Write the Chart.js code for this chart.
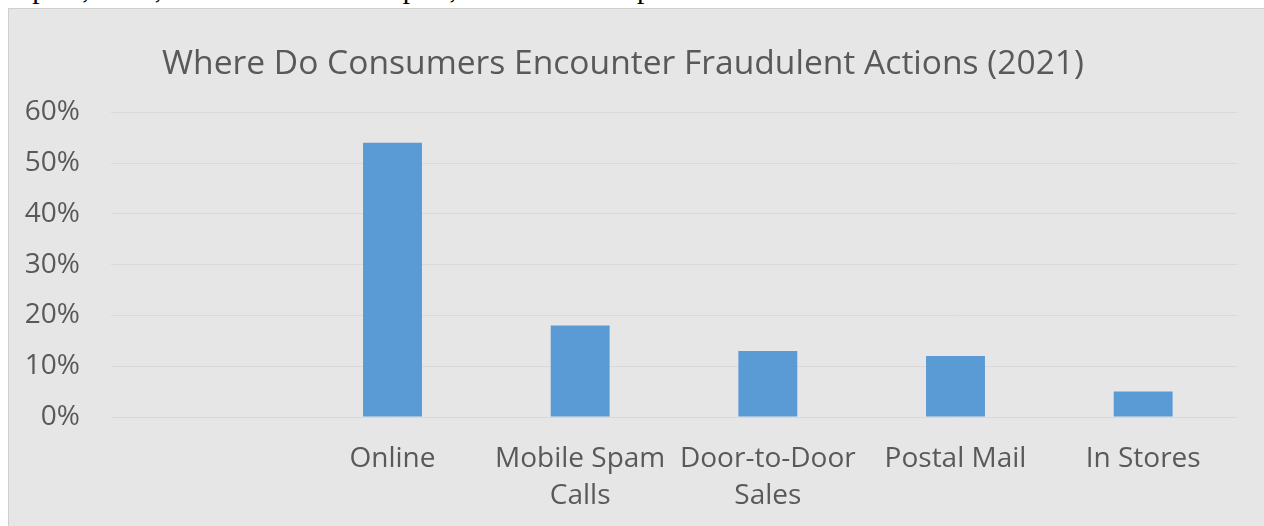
<!DOCTYPE html>
<html>
<head>
<meta charset="utf-8">
<script src="https://cdn.jsdelivr.net/npm/chart.js@4/dist/chart.umd.min.js"></script>
<style>
    body { margin: 0; background: #ffffff; width: 1264px; height: 526px; overflow: hidden; position: relative; }
    #docline {
        position: absolute; left: 0; top: -28px; height: 36px; width: 1264px; overflow: hidden;
        font-family: "Liberation Serif", serif; font-size: 29px; color: #000; white-space: nowrap;
    }
    #box {
        position: absolute; left: 8px; top: 8px; width: 1255px; height: 517px;
        background: #e7e6e6; border-left: 1px solid #d0cfcf; border-top: 1px solid #d0cfcf;
    }
</style>
</head>
<body>
<div id="docline">Lupina, 2021, Consumer Fraud Report, Research Group.</div>
<div id="box"><canvas id="g_fraud" width="1255" height="517"></canvas></div>
<script>
// Where do consumers encounter fraud (2021), first category is empty in the source chart
const categories = ["", "Online", ["Mobile Spam", "Calls"], ["Door-to-Door", "Sales"], "Postal Mail", "In Stores"];
const shares = [null, 54, 18, 13, 12, 5];
const yTicks = [0, 10, 20, 30, 40, 50, 60];

function fraudChart() {
    const ctx = document.getElementById("g_fraud").getContext("2d");
    let conData = {
        labels: categories,
        datasets: [{
            label: "share",
            backgroundColor: "#5b9bd5",
            borderWidth: 0,
            data: shares,
            barPercentage: 0.314,
            categoryPercentage: 1
        }]
    }
    let options = {
        responsive: false,
        animation: false,
        layout: { padding: { left: 0, right: 27, top: 0, bottom: 0 } },
        plugins: {
            legend: { display: false },
            tooltip: { enabled: false },
            title: {
                display: true,
                text: "Where Do Consumers Encounter Fraudulent Actions (2021)",
                color: "#595959",
                font: { family: "Open Sans", size: 33.6, weight: "normal", lineHeight: 1.2 },
                padding: { top: 35, bottom: 28 }
            }
        },
        scales: {
            x: {
                afterFit: function(scale) { scale.height = 109; },
                grid: { display: false, drawTicks: false },
                border: { display: false },
                ticks: {
                    color: "#595959",
                    font: { family: "Open Sans", size: 28, lineHeight: 1.32 },
                    padding: 24,
                    maxRotation: 0,
                    autoSkip: false
                }
            },
            y: {
                min: 0,
                max: 60,
                afterFit: function(scale) { scale.width = 102; },
                afterBuildTicks: function(scale) {
                    scale.ticks = yTicks.map(function(v) { return { value: v }; });
                },
                grid: { color: "#d9d9d9", lineWidth: 1, drawTicks: false },
                border: { display: false },
                ticks: {
                    color: "#595959",
                    font: { family: "Open Sans", size: 28 },
                    padding: 31,
                    callback: function(v) { return v + "%"; }
                }
            }
        }
    }
    const config = {
        type: "bar",
        data: conData,
        options: options
    }
    const fraudBar = new Chart(ctx, config);
}

window.addEventListener("load", () => {
    fraudChart();
})
</script>
</body>
</html>
